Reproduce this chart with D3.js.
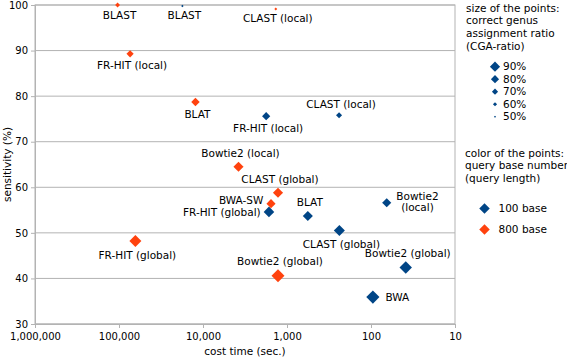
<!DOCTYPE html>
<html>
<head>
<meta charset="utf-8">
<script src="https://cdn.jsdelivr.net/npm/d3@7"></script>
<style>
  body { margin: 0; background: #fff; }
  text { font-family: "DejaVu Sans", Verdana, sans-serif; font-size: 10.5px; fill: #000; }
</style>
</head>
<body>
<svg id="chart"></svg>
<script>
// 100 base queries (blue)
const names100 = ['BLAST', 'FR-HIT (local)', 'CLAST (local)', 'FR-HIT (global)', 'BLAT',
  'Bowtie2 (local)', 'CLAST (global)', 'Bowtie2 (global)', 'BWA']
const time100 = [17600, 1770, 240, 1640, 565, 65, 238, 38.6, 95]
const sens100 = [99.8, 75.6, 75.8, 54.6, 53.7, 56.6, 50.5, 42.4, 35.9]
const cga100 = [50, 74, 65, 84, 82, 78, 86, 92, 95]
const place100 = ['below', 'below', 'above', 'left', 'above', 'right2', 'below', 'above', 'right']

// 800 base queries (orange)
const names800 = ['BLAST', 'CLAST (local)', 'FR-HIT (local)', 'BLAT', 'Bowtie2 (local)',
  'CLAST (global)', 'BWA-SW', 'FR-HIT (global)', 'Bowtie2 (global)']
const time800 = [104000, 1360, 73800, 12300, 3780, 1280, 1550, 63800, 1280]
const sens800 = [100, 99.1, 89.3, 78.7, 64.5, 58.8, 56.4, 48.2, 40.6]
const cga800 = [60, 52, 70, 75, 82, 82, 78, 90, 94]
const place800 = ['below', 'below', 'below', 'below', 'above', 'above', 'leftup', 'below', 'above']

const xTicks = [1000000, 100000, 10000, 1000, 100, 10]
const yTicks = [30, 40, 50, 60, 70, 80, 90, 100]
const sizeLegend = [90, 80, 70, 60, 50]
const colorLegend = ['100 base', '800 base']

const width = 567, height = 358
const margin = { top: 5, right: 112, bottom: 34, left: 35 }
const blue = '#004586', orange = '#ff420e', grid = '#b3b3b3'

const svg = d3.select('#chart').attr('width', width).attr('height', height)

const x = d3.scaleLog().domain([1000000, 10]).range([margin.left, width - margin.right])
const y = d3.scaleLinear().domain([30, 100]).range([height - margin.bottom, margin.top])
const size = d3.scaleLinear().domain([50, 90]).range([2.5, 12])

const diamond = (w) => {
  const r = w / 2
  return `M0,${-r}L${r},0L0,${r}L${-r},0Z`
}

// grid + frame
svg.append('g').selectAll('line')
  .data(yTicks)
  .enter().append('line')
  .attr('x1', margin.left).attr('x2', width - margin.right)
  .attr('y1', d => y(d)).attr('y2', d => y(d))
  .attr('stroke', grid).attr('stroke-width', 1)
svg.append('rect')
  .attr('x', margin.left).attr('y', margin.top)
  .attr('width', width - margin.right - margin.left)
  .attr('height', height - margin.bottom - margin.top)
  .attr('fill', 'none').attr('stroke', grid)

// axes
const xAxis = svg.append('g')
  .attr('transform', `translate(0,${height - margin.bottom})`)
  .call(d3.axisBottom(x).tickValues(xTicks).tickFormat(d3.format(',')).tickSize(4).tickPadding(5))
const yAxis = svg.append('g')
  .attr('transform', `translate(${margin.left},0)`)
  .call(d3.axisLeft(y).tickValues(yTicks).tickSize(4).tickPadding(3))
;[xAxis, yAxis].forEach(a => {
  a.select('.domain').attr('stroke', grid)
  a.selectAll('.tick line').attr('stroke', grid)
  a.selectAll('.tick text').attr('fill', '#000').style('font-size', '10px')
    .style('font-family', '"DejaVu Sans", Verdana, sans-serif')
})

svg.append('text')
  .attr('x', (margin.left + width - margin.right) / 2).attr('y', 355)
  .attr('text-anchor', 'middle').text('cost time (sec.)')
svg.append('text')
  .attr('transform', `translate(11,${(margin.top + height - margin.bottom) / 2}) rotate(-90)`)
  .attr('text-anchor', 'middle').text('sensitivity (%)')

// points + labels
const series = [
  { color: blue, names: names100, time: time100, sens: sens100, cga: cga100, place: place100 },
  { color: orange, names: names800, time: time800, sens: sens800, cga: cga800, place: place800 }
]

series.forEach(s => {
  const pts = s.names.map((n, i) => ({ name: n, t: s.time[i], v: s.sens[i], c: s.cga[i], p: s.place[i] }))
  const g = svg.append('g')
  g.selectAll('path')
    .data(pts)
    .enter().append('path')
    .attr('transform', d => `translate(${x(d.t)},${y(d.v)})`)
    .attr('d', d => diamond(size(d.c)))
    .attr('fill', s.color)

  pts.forEach(d => {
    const px = x(d.t), py = y(d.v), r = size(d.c) / 2
    if (d.p === 'below' || d.p === 'above') {
      g.append('text')
        .attr('x', px + 2)
        .attr('y', d.p === 'below' ? py + r + 11.5 : py - r - 4.5)
        .attr('text-anchor', 'middle').text(d.name)
    } else if (d.p === 'left' || d.p === 'leftup') {
      g.append('text').attr('x', px - r - 3).attr('y', py + (d.p === 'left' ? 4.5 : 0.5))
        .attr('text-anchor', 'end').text(d.name)
    } else if (d.p === 'right') {
      g.append('text').attr('x', px + r + 6).attr('y', py + 3.6).text(d.name)
    } else {
      const parts = d.name.split(' ')
      const t = g.append('text')
      const spans = parts.map((part, i) => t.append('tspan')
        .attr('y', py - 3 + i * 11.5).text(part))
      const widths = spans.map(sp => sp.node().getComputedTextLength())
      const cx = px + r + 5 + d3.max(widths) / 2
      spans.forEach(sp => sp.attr('x', cx).attr('text-anchor', 'middle'))
    }
  })
})

// legend: size
const lg = svg.append('g')
const sizeTitle = ['size of the points:', 'correct genus', 'assignment ratio', '(CGA-ratio)']
const sizeTitleY = [12, 24, 36.5, 50]
sizeTitle.forEach((t, i) => lg.append('text').attr('x', 466).attr('y', sizeTitleY[i]).text(t))
const sizeY = d3.scalePoint().domain(sizeLegend).range([66.7, 116.7])
lg.selectAll('.sz')
  .data(sizeLegend)
  .enter().append('path')
  .attr('class', 'sz')
  .attr('transform', d => `translate(495,${sizeY(d)})`)
  .attr('d', d => diamond(size(d) * 0.85))
  .attr('fill', blue)
lg.selectAll('.szt')
  .data(sizeLegend)
  .enter().append('text')
  .attr('class', 'szt')
  .attr('x', 503).attr('y', d => sizeY(d) + 3.6)
  .text(d => d + '%')

// legend: colour
const colorTitle = ['color of the points:', 'query base number', '(query length)']
const colorTitleY = [156.5, 168.5, 181.5]
colorTitle.forEach((t, i) => lg.append('text').attr('x', 465).attr('y', colorTitleY[i]).text(t))
const colorY = d3.scalePoint().domain(colorLegend).range([208.5, 229.5])
lg.selectAll('.cl')
  .data(colorLegend)
  .enter().append('path')
  .attr('class', 'cl')
  .attr('transform', d => `translate(484.5,${colorY(d)})`)
  .attr('d', diamond(10.5))
  .attr('fill', (d, i) => [blue, orange][i])
lg.selectAll('.clt')
  .data(colorLegend)
  .enter().append('text')
  .attr('class', 'clt')
  .attr('x', 498.5).attr('y', d => colorY(d) + 3.6)
  .text(d => d)
</script>
</body>
</html>
